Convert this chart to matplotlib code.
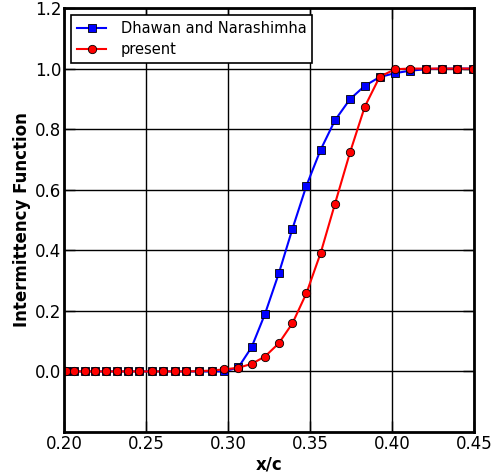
import numpy as np
import matplotlib
matplotlib.use("Agg")
import matplotlib.pyplot as plt

# streamwise stations (shared by both data sets)
x_c = [0.2010, 0.2064, 0.2127, 0.2192, 0.2259, 0.2326, 0.2392, 0.2459,
       0.2534, 0.2603, 0.2674, 0.2745, 0.2826, 0.2901, 0.2976, 0.3063,
       0.3144, 0.3225, 0.3310, 0.3393, 0.3478, 0.3565, 0.3652, 0.3744,
       0.3834, 0.3925, 0.4019, 0.4112, 0.4207, 0.4302, 0.4397, 0.4493]

# Dhawan and Narasimha intermittency
gamma_dn = [0.0, 0.0, 0.0, 0.0, 0.0, 0.0, 0.0, 0.0,
            0.0, 0.0, 0.0, 0.0, 0.0, 0.0, 0.0, 0.013,
            0.080, 0.189, 0.324, 0.471, 0.613, 0.732, 0.829, 0.899,
            0.943, 0.972, 0.985, 0.993, 0.998, 1.0, 1.0, 1.0]

# present computation
gamma_present = [0.0, 0.0, 0.0, 0.0, 0.0, 0.0, 0.0, 0.0,
                 0.0, 0.0, 0.0, 0.0, 0.001, 0.003, 0.007, 0.012,
                 0.025, 0.049, 0.093, 0.159, 0.258, 0.391, 0.553, 0.723,
                 0.874, 0.973, 0.998, 1.0, 1.0, 1.0, 1.0, 1.0]

plt.rcParams['font.family'] = 'DejaVu Sans'

fig = plt.figure(figsize=(4.93, 4.76), dpi=100)
ax = fig.add_axes([64/493, 1 - 432/476, 410/493, 424/476])

ax.plot(x_c, gamma_dn, '-s', color='blue', lw=1.5, ms=6,
        mfc='blue', mec='black', mew=0.6, label='Dhawan and Narashimha')
ax.plot(x_c, gamma_present, '-o', color='red', lw=1.5, ms=6,
        mfc='red', mec='black', mew=0.6, label='present')

ax.set_xlim(0.20, 0.45)
ax.set_ylim(-0.2, 1.2)
ax.set_xticks(np.arange(0.20, 0.451, 0.05))
ax.set_yticks(np.arange(0.0, 1.21, 0.2))
ax.xaxis.set_major_formatter(matplotlib.ticker.FormatStrFormatter('%.2f'))
ax.yaxis.set_major_formatter(matplotlib.ticker.FormatStrFormatter('%.1f'))
ax.tick_params(direction='in', length=8, width=1, labelsize=12, pad=2,
               top=True, right=True)
ax.grid(True, color='black', lw=1.0, ls='-')
for s in ax.spines.values():
    s.set_linewidth(2)

ax.set_xlabel('x/c', fontsize=12, fontweight='bold', labelpad=2)
ax.set_ylabel('Intermittency Function', fontsize=12, fontweight='bold',
              labelpad=3)

leg = ax.legend(loc='upper left', fontsize=10.5, fancybox=False,
                framealpha=1, edgecolor='black', handlelength=2.0,
                handletextpad=1.0, labelspacing=0.4, borderaxespad=0.5)
leg.get_frame().set_linewidth(1.2)

fig.savefig('out.png', dpi=100)
